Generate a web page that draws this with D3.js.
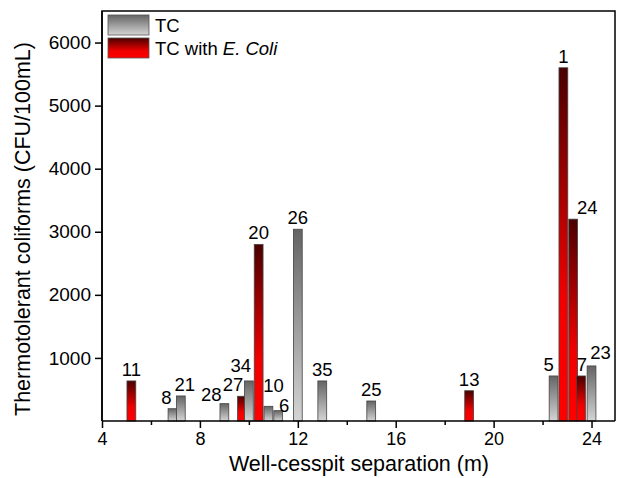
<!DOCTYPE html>
<html>
<head>
<meta charset="utf-8">
<script src="https://cdn.jsdelivr.net/npm/d3@7"></script>
<style>
  body { margin: 0; background: #fff; }
  svg { display: block; font-family: Arial, 'Liberation Sans', sans-serif; }
</style>
</head>
<body>
<svg></svg>
<script>
const w = 617;
const h = 478;

// TC (grey bars)
const tcSep = [6.88, 7.22, 9.0, 10.0, 10.8, 11.2, 12.0, 13.0, 15.0, 22.45, 24.0];
const tcVal = [195, 397, 275, 635, 233, 164, 3040, 635, 317, 714, 873];
const tcWell = ['8', '21', '28', '34', '10', '6', '26', '35', '25', '5', '23'];

// TC with E. coli (red bars)
const ecSep = [5.2, 9.72, 10.4, 19.0, 22.85, 23.25, 23.57];
const ecVal = [635, 392, 2800, 480, 5600, 3200, 714];
const ecWell = ['11', '27', '20', '13', '1', '24', '7'];

const xMajor = [4, 8, 12, 16, 20, 24];
const xMinor = [6, 10, 14, 18, 22];
const yTicks = [1000, 2000, 3000, 4000, 5000, 6000];

const mLeft = 102, mRight = 616, mTop = 11, mBottom = 421;
const barW = 0.36;

// label nudges so numbers don't sit on each other
const nudge = {
  '8': [-6, 0], '21': [4, 0], '28': [-13, 2], '27': [-9, 0], '34': [-8, -4],
  '10': [5, -9], '6': [6, 6], '5': [-5, 0], '7': [1, 0], '23': [9, -2], '24': [14, 0]
};

const svg = d3.select('svg').attr('width', w).attr('height', h);

const defs = svg.append('defs');
const grey = defs.append('linearGradient').attr('id', 'grey')
  .attr('x1', 0).attr('y1', 0).attr('x2', 0).attr('y2', 1);
grey.append('stop').attr('offset', '0%').attr('stop-color', '#646464');
grey.append('stop').attr('offset', '100%').attr('stop-color', '#d4d4d4');
const red = defs.append('linearGradient').attr('id', 'red')
  .attr('x1', 0).attr('y1', 0).attr('x2', 0).attr('y2', 1);
red.append('stop').attr('offset', '0%').attr('stop-color', '#4a0000');
red.append('stop').attr('offset', '65%').attr('stop-color', '#f00000');
red.append('stop').attr('offset', '100%').attr('stop-color', '#ff0000');

const x = d3.scaleLinear().domain([4, 25]).range([mLeft, mRight]);
const y = d3.scaleLinear().domain([0, 6500]).range([mBottom, mTop]);

const bars = tcSep.map((s, i) => ({ sep: s, val: tcVal[i], well: tcWell[i], fill: 'url(#grey)' }))
  .concat(ecSep.map((s, i) => ({ sep: s, val: ecVal[i], well: ecWell[i], fill: 'url(#red)' })))
  .sort((a, b) => a.sep - b.sep);

svg.append('g')
  .selectAll('rect')
  .data(bars)
  .enter()
  .append('rect')
  .attr('x', d => x(d.sep - barW / 2))
  .attr('y', d => y(d.val))
  .attr('width', d => x(d.sep + barW / 2) - x(d.sep - barW / 2))
  .attr('height', d => y(0) - y(d.val))
  .attr('fill', d => d.fill)
  .attr('stroke', '#444')
  .attr('stroke-width', 0.8);

svg.append('g')
  .selectAll('text')
  .data(bars)
  .enter()
  .append('text')
  .attr('x', d => x(d.sep) + (nudge[d.well] ? nudge[d.well][0] : 0))
  .attr('y', d => y(d.val) - 5 + (nudge[d.well] ? nudge[d.well][1] : 0))
  .attr('text-anchor', 'middle')
  .style('font-size', '18.5px')
  .text(d => d.well);

// frame
svg.append('path')
  .attr('d', `M${mLeft},${mBottom}V${mTop}H${mRight - 1}V${mBottom}`)
  .attr('fill', 'none')
  .attr('stroke', '#000')
  .attr('stroke-width', 1.5);

const xAxis = svg.append('g')
  .attr('transform', `translate(0,${mBottom})`)
  .call(d3.axisBottom(x).tickValues(xMajor).tickSize(7).tickSizeOuter(0).tickPadding(4));
svg.append('g')
  .attr('transform', `translate(0,${mBottom})`)
  .call(d3.axisBottom(x).tickValues(xMinor).tickSize(4).tickSizeOuter(0).tickFormat(''))
  .select('.domain').remove();
xAxis.select('.domain').attr('d', `M${mLeft},0H${mRight - 1}`);

const yAxis = svg.append('g')
  .attr('transform', `translate(${mLeft},0)`)
  .call(d3.axisLeft(y).tickValues(yTicks).tickFormat(d3.format('d'))
    .tickSize(7).tickSizeOuter(0).tickPadding(4));
yAxis.select('.domain').attr('d', `M0,${mBottom}V${mTop}`);

svg.selectAll('.tick line').attr('stroke-width', 1.5);
svg.selectAll('.domain').attr('stroke-width', 1.5);
xAxis.selectAll('text').style('font-size', '18px').attr('font-family', null);
yAxis.selectAll('text').style('font-size', '19px').attr('font-family', null);

svg.append('text')
  .attr('x', (mLeft + mRight) / 2)
  .attr('y', 471)
  .attr('text-anchor', 'middle')
  .style('font-size', '21.5px')
  .text('Well-cesspit separation (m)');

svg.append('text')
  .attr('transform', 'translate(29.5,229) rotate(-90)')
  .attr('text-anchor', 'middle')
  .style('font-size', '21.5px')
  .text('Thermotolerant coliforms (CFU/100mL)');

// legend
const legend = [
  { fill: 'url(#grey)', y: 15 },
  { fill: 'url(#red)', y: 38 }
];
svg.selectAll('.leg')
  .data(legend)
  .enter()
  .append('rect')
  .attr('x', 108)
  .attr('y', d => d.y)
  .attr('width', 41)
  .attr('height', 20)
  .attr('fill', d => d.fill)
  .attr('stroke', '#555')
  .attr('stroke-width', 0.8);

svg.append('text')
  .attr('x', 155)
  .attr('y', 32)
  .style('font-size', '18.5px')
  .text('TC');
const t2 = svg.append('text')
  .attr('x', 155)
  .attr('y', 54.5)
  .style('font-size', '18.5px');
t2.append('tspan').text('TC with ');
t2.append('tspan').style('font-style', 'italic').text('E. Coli');
</script>
</body>
</html>
